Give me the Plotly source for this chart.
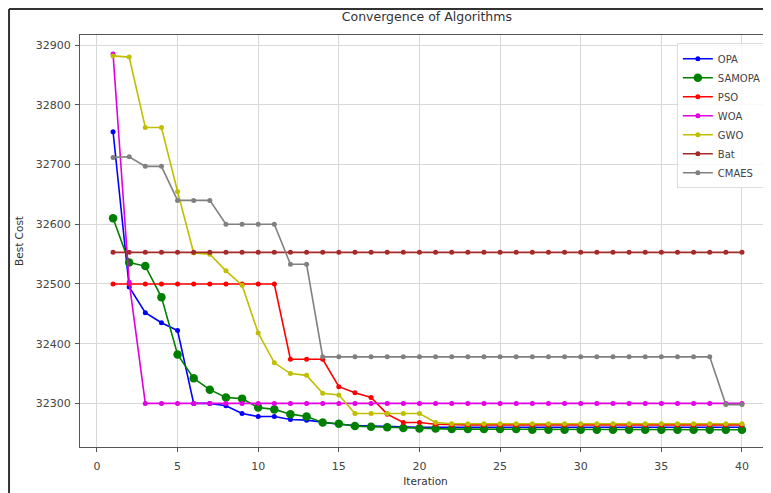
import plotly.graph_objects as go

iterations = list(range(1, 41))

opa = [32755, 32495, 32452, 32435, 32422, 32300, 32300, 32296, 32283, 32278,
       32278, 32273, 32272, 32268, 32265, 32263, 32262, 32262, 32261, 32260,
       32260, 32260, 32260, 32260, 32260, 32260, 32260, 32260, 32260, 32260,
       32260, 32260, 32260, 32260, 32260, 32260, 32260, 32260, 32260, 32260]
samopa = [32610, 32536, 32530, 32478, 32382, 32342, 32323, 32310, 32308, 32293,
          32290, 32282, 32278, 32268, 32266, 32262, 32261, 32260, 32259, 32258,
          32258, 32257, 32257, 32257, 32257, 32257, 32256, 32256, 32256, 32256,
          32256, 32256, 32256, 32256, 32256, 32256, 32256, 32256, 32256, 32256]
pso = [32500, 32500, 32500, 32500, 32500, 32500, 32500, 32500, 32500, 32500,
       32500, 32374, 32374, 32374, 32328, 32318, 32310, 32282, 32268, 32268,
       32265, 32264, 32264, 32264, 32264, 32264, 32264, 32264, 32264, 32264,
       32264, 32264, 32264, 32264, 32264, 32264, 32264, 32264, 32264, 32264]
woa = [32885, 32503, 32300, 32300, 32300, 32300, 32300, 32300, 32300, 32300,
       32300, 32300, 32300, 32300, 32300, 32300, 32300, 32300, 32300, 32300,
       32300, 32300, 32300, 32300, 32300, 32300, 32300, 32300, 32300, 32300,
       32300, 32300, 32300, 32300, 32300, 32300, 32300, 32300, 32300, 32300]
gwo = [32882, 32880, 32762, 32762, 32655, 32552, 32550, 32522, 32498, 32418,
       32368, 32350, 32347, 32317, 32314, 32283, 32283, 32283, 32283, 32283,
       32268, 32266, 32266, 32266, 32266, 32266, 32266, 32266, 32266, 32266,
       32266, 32266, 32266, 32266, 32266, 32266, 32266, 32266, 32266, 32266]
bat = [32553] * 40
cmaes = [32712, 32713, 32697, 32697, 32640, 32640, 32640, 32600, 32600, 32600,
         32600, 32533, 32533, 32378, 32378, 32378, 32378, 32378, 32378, 32378,
         32378, 32378, 32378, 32378, 32378, 32378, 32378, 32378, 32378, 32378,
         32378, 32378, 32378, 32378, 32378, 32378, 32378, 32378, 32298, 32298]

series = [
    ("OPA", opa, "#0000ff", 5),
    ("SAMOPA", samopa, "#008000", 8.5),
    ("PSO", pso, "#ff0000", 5),
    ("WOA", woa, "#e000e0", 5),
    ("GWO", gwo, "#bfbf00", 5),
    ("Bat", bat, "#a52a2a", 5),
    ("CMAES", cmaes, "#808080", 5),
]

x_ticks = [0, 5, 10, 15, 20, 25, 30, 35, 40]
y_ticks = [32300, 32400, 32500, 32600, 32700, 32800, 32900]

fig = go.Figure()
for name, vals, color, msize in series:
    fig.add_trace(go.Scatter(
        x=iterations, y=vals, name=name, mode="lines+markers",
        line=dict(color=color, width=1.6),
        marker=dict(color=color, size=msize),
    ))

axis_font = dict(family="DejaVu Sans", size=11, color="#444444")
title_font = dict(family="DejaVu Sans", size=10.5, color="#333333")
fig.update_layout(
    width=763, height=485,
    paper_bgcolor="white", plot_bgcolor="white",
    margin=dict(l=72, r=0, t=27, b=46),
    font=dict(family="DejaVu Sans", size=10, color="#333333"),
    title=dict(text="Convergence of Algorithms", x=0.549, xanchor="center",
               y=0.9814, yanchor="middle",
               font=dict(family="DejaVu Sans", size=12.5, color="#333333")),
    showlegend=True,
    legend=dict(x=0.994, xanchor="right", y=0.98, yanchor="top",
                bgcolor="rgba(255,255,255,0.85)", bordercolor="#dddddd",
                borderwidth=1, font=dict(family="DejaVu Sans", size=10, color="#444444"),
                tracegroupgap=0, itemwidth=30),
    xaxis=dict(range=[-1.05, 41.8], tickvals=x_ticks, ticktext=[str(v) for v in x_ticks],
               showgrid=True, gridcolor="#d8d8d8", gridwidth=1,
               showline=True, linecolor="#555555", linewidth=1, mirror=True,
               ticks="outside", ticklen=4, tickcolor="#555555",
               tickfont=axis_font, zeroline=False, ticklabelstandoff=5,
               title=dict(text="Iteration", font=title_font, standoff=5)),
    yaxis=dict(range=[32227, 32917], tickvals=y_ticks, ticktext=[str(v) for v in y_ticks],
               showgrid=True, gridcolor="#d8d8d8", gridwidth=1,
               showline=True, linecolor="#555555", linewidth=1, mirror=True,
               ticks="outside", ticklen=4, tickcolor="#555555",
               tickfont=axis_font, zeroline=False, ticklabelstandoff=2,
               title=dict(text="Best Cost", font=title_font, standoff=10)),
    shapes=[
        dict(type="line", xref="paper", yref="paper", x0=-0.1027, x1=1.01, y0=1.0631, y1=1.0631,
             line=dict(color="#333333", width=2)),
        dict(type="line", xref="paper", yref="paper", x0=-0.1027, x1=-0.1027, y0=-0.2, y1=1.0631,
             line=dict(color="#333333", width=2)),
    ],
)

fig.write_html("out.html")
